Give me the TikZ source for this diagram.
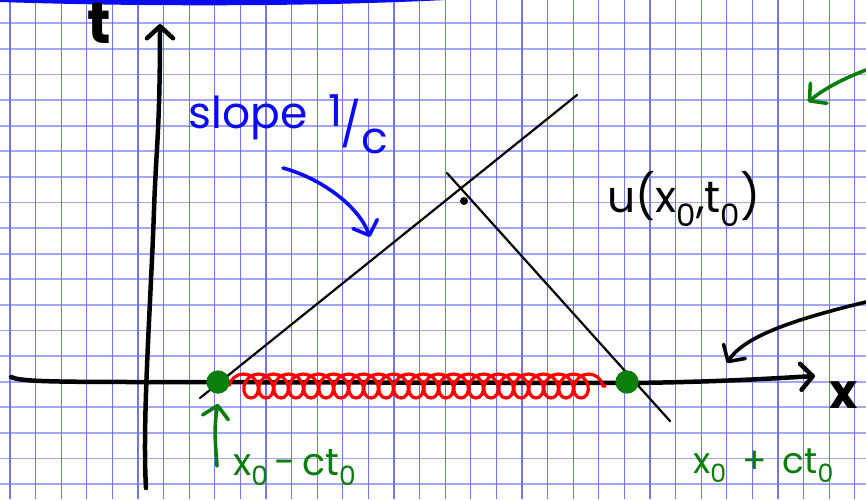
\documentclass[tikz,border=0pt]{standalone}
\usepackage{fontspec}
\setmainfont{Poppins}
\usepackage{tikz}
\usetikzlibrary{arrows.meta, decorations.pathmorphing}
\definecolor{gridv}{RGB}{115,115,250}
\definecolor{gridh}{RGB}{165,165,250}
\definecolor{penblue}{RGB}{10,10,245}
\definecolor{pengreen}{RGB}{10,125,10}
\definecolor{penred}{RGB}{255,0,0}
\definecolor{penblack}{RGB}{0,0,0}
\tikzset{
  vgrid/.style={draw=gridv, line width=1.1pt},
  hgrid/.style={draw=gridh, line width=1.9pt},
  axisline/.style={line width=4.5pt, line cap=round, line join=round, color=penblack},
  charline/.style={line width=2.2pt, line cap=round, color=penblack},
  spring/.style={decorate, decoration={coil, amplitude=12pt, segment length=15pt, aspect=0.9},
    line width=3.2pt, color=penred},
  gdot/.style={circle, fill=pengreen, minimum size=23pt, inner sep=0pt},
  bdot/.style={circle, fill=penblack, minimum size=8pt, inner sep=0pt},
  hand/.style={font=\fontsize{44}{44}\selectfont, inner sep=0pt},
  pen/.style={line width=3.6pt, line cap=round, line join=round},
  barb/.style={-{Straight Barb[round, length=12pt, width=26pt]}}
}

\begin{document}
\begin{tikzpicture}[x=1pt, y=-1pt]
  \fill[white] (0,0) rectangle (866,499);
  \useasboundingbox (0,0) rectangle (866,499);

  % squared paper
  \foreach \k in {0,...,18}
    \draw[hgrid] (0,23.3+25.6*\k) -- (866,23.3+25.6*\k);
  \foreach \k in {0,...,33}
    \draw[vgrid] (10+25.6*\k,0) -- (10+25.6*\k,499);
  \fill[penblue] (0,-3) -- (0,2) .. controls (150,7) and (350,7) .. (497,-3) -- cycle;

  % axes
  \coordinate (O) at (144,382);
  \coordinate (tbot) at (146,488);
  \coordinate (ttop) at (160,24);
  \coordinate (xstart) at (11,377);
  \coordinate (xend) at (815,376);
  \draw[axisline, barb] (tbot) .. controls (142,420) and (151,300) .. (154,210)
    .. controls (156,150) and (160,130) .. (ttop);
  \draw[axisline, barb] (xstart) .. controls (20,381) and (40,382) .. (O) -- (630,383)
    .. controls (720,382) and (780,378) .. (xend);
  \node[hand, font=\fontsize{58}{58}\selectfont\bfseries, anchor=base] (tlab) at (99,43) {t};
  \node[hand, font=\fontsize{48}{48}\selectfont\bfseries, anchor=base west] (xlab) at (829,408) {x};

  % characteristics
  \node[gdot] (xl) at (218,382) {};
  \node[gdot] (xr) at (627,382) {};
  \coordinate (lcbot) at (200,398);
  \coordinate (lctop) at (577,95);
  \coordinate (rctop) at (447,173);
  \coordinate (rcbot) at (670,421);
  \draw[spring] (229,386) -- (606,386);
  \draw[charline] (lcbot) -- (lctop);
  \draw[charline] (rctop) -- (rcbot);
  \node[gdot] at (xl) {};
  \node[gdot] at (xr) {};
  \node[bdot] (udot) at (464,201) {};
  \node[hand, anchor=base] (ulab) at (684,212) {u(x\textsubscript{0},t\textsubscript{0})};

  % slope note
  \node[hand, text=penblue, anchor=base] (slope) at (248,128) {slope};
  \node[hand, text=penblue, anchor=base] (frac) at (358,140)
    {\raisebox{0.3em}{1}\kern-0.05em/\raisebox{-0.3em}{c}};
  \coordinate (slopetip) at (370,237);
  \draw[pen, penblue, barb] (283,168) .. controls (320,178) and (358,205) .. (slopetip);

  % end points
  \node[hand, text=pengreen, font=\fontsize{38}{38}\selectfont, anchor=base west] (minus) at (233,475)
    {x\textsubscript{0}\,-\,ct\textsubscript{0}};
  \node[hand, text=pengreen, font=\fontsize{36}{36}\selectfont, anchor=base west] (plus) at (693,473)
    {x\textsubscript{0}\, +\, ct\textsubscript{0}};
  \coordinate (minustail) at (217,466);
  \draw[pen, pengreen, barb] (minustail) .. controls (215,440) and (214,425) .. ([yshift=-10pt]xl.south);

  % arrows coming from the right
  \coordinate (gstart) at (866,70);
  \coordinate (gend) at (808,102);
  \draw[pen, pengreen, barb] (gstart) .. controls (845,78) and (825,88) .. (gend);
  \coordinate (bstart) at (866,302);
  \coordinate (bend) at (727,363);
  \draw[pen, penblack, barb] (bstart) .. controls (800,318) and (745,335) .. (bend);
\end{tikzpicture}
\end{document}
